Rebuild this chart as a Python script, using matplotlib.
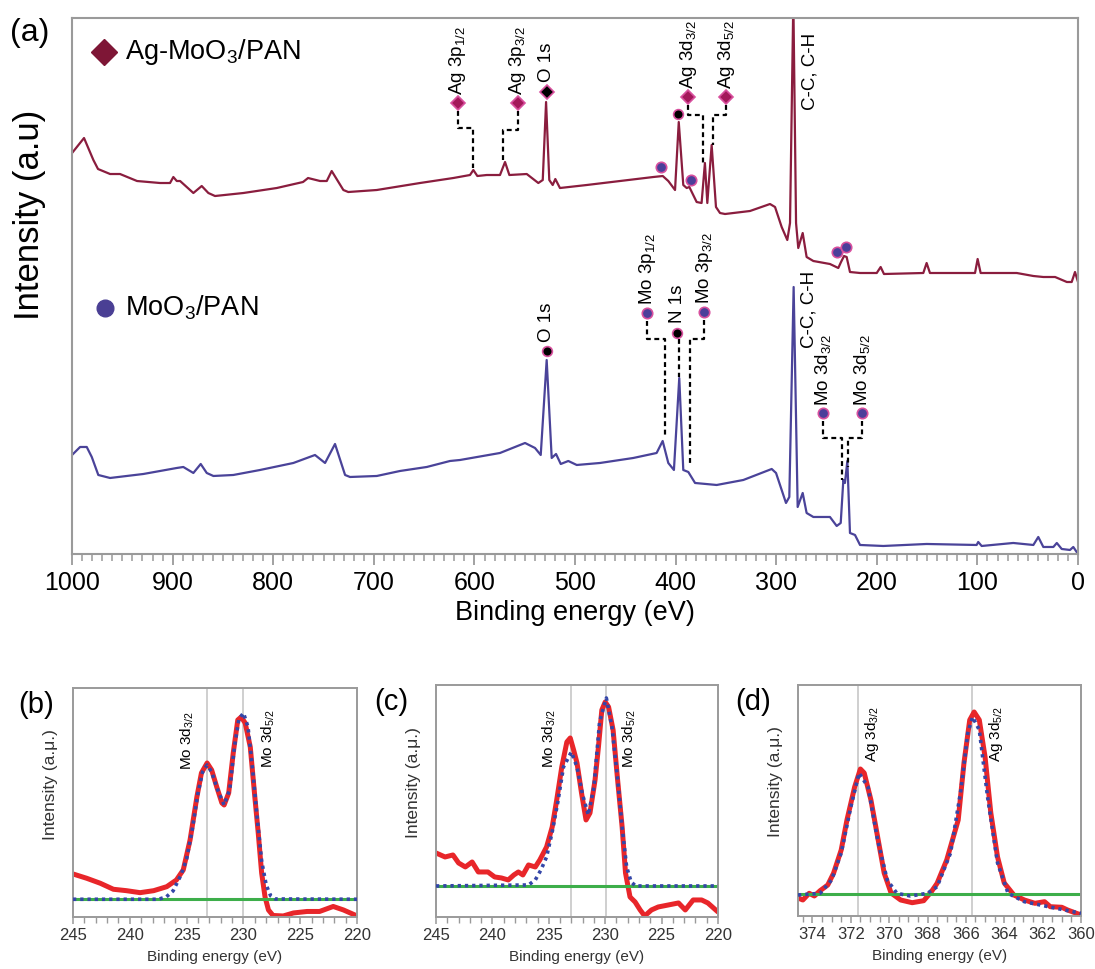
import numpy as np
import matplotlib.pyplot as plt
from matplotlib.ticker import MultipleLocator

plt.rcParams['font.family'] = ['Liberation Sans', 'DejaVu Sans']
plt.rcParams['mathtext.default'] = 'regular'

# ---- survey spectra (binding energy in eV, intensity in a.u.) ----
ag_e = [1000, 988.1, 978.8, 974.2, 962.2, 952.3, 935.4, 912.5, 902.6, 899.3,
        895.9, 892.6, 879.4, 871.1, 864.5, 857.9, 829.7, 796.5, 770.4, 765.4,
        753.5, 746.8, 741.9, 730.3, 725.4, 697.1, 654.1, 621.0, 604.4, 601.1,
        597.1, 587.8, 574.6, 569.6, 565.3, 548.0, 536.5, 532.1, 528.8, 525.6,
        522.2, 519.6, 515.0, 488.4, 455.3, 422.2, 412.8, 407.3, 400.6, 396.9,
        392.4, 389.0, 386.4, 379.1, 374.2, 370.9, 368.5, 364.2, 359.9, 355.9,
        350.9, 326.1, 306.2, 301.2, 294.6, 289.0, 286.3, 283.0, 280.3, 278.1,
        273.7, 269.8, 263.1, 246.6, 238.3, 235.6, 232.6, 230.0, 226.7, 216.7,
        200.1, 196.2, 192.9, 153.8, 150.5, 147.2, 102.4, 99.8, 96.8, 60.9,
        44.4, 34.5, 22.8, 11.1, 6.3, 3.0, 0]
ag_i = [407, 422, 400, 391, 386, 386, 379, 377, 377, 383,
        379, 379, 367, 374, 367, 364, 367, 372, 378, 382,
        379, 379, 389, 370, 368, 370, 377, 382, 385, 390,
        384, 385, 385, 398, 385, 386, 377, 380, 458, 380,
        375, 381, 372, 375, 379, 383, 384, 379, 370, 438,
        375, 372, 373, 358, 357, 397, 357, 415, 353, 347,
        346, 349, 356, 353, 333, 320, 337, 560, 337, 312,
        327, 303, 299, 296, 292, 298, 304, 303, 288, 287,
        287, 293, 286, 287, 297, 287, 287, 301, 287, 287,
        284, 283, 283, 278, 278, 288, 278]

mo_e = [1000, 992.0, 985.4, 980.4, 973.9, 962.2, 929.1, 895.9, 889.4, 879.4,
        872.1, 866.1, 859.5, 839.7, 813.1, 780.0, 758.5, 748.5, 738.6, 728.6,
        723.7, 697.1, 674.0, 647.4, 624.3, 614.3, 574.6, 549.7, 539.8, 534.1,
        528.2, 523.2, 518.9, 514.2, 506.7, 498.3, 475.2, 442.1, 418.9, 412.9,
        407.3, 401.7, 396.4, 392.4, 387.4, 380.7, 359.2, 332.7, 304.5, 300.2,
        290.3, 287.0, 282.7, 278.7, 273.7, 269.8, 263.1, 246.6, 239.9, 235.9,
        233.3, 231.7, 229.3, 226.7, 221.7, 216.7, 193.6, 150.5, 100.8, 99.2,
        95.8, 64.4, 44.4, 39.5, 34.5, 24.5, 21.1, 16.2, 8.0, 4.7, 0.7]
mo_i = [105, 113, 113, 103, 85, 82, 86, 92, 93, 87,
        96, 87, 84, 85, 90, 97, 105, 97, 116, 85,
        83, 84, 89, 93, 99, 100, 107, 117, 112, 105,
        200, 102, 106, 96, 99, 95, 97, 102, 107, 119,
        97, 90, 182, 90, 88, 77, 75, 80, 91, 87,
        57, 63, 273, 53, 67, 47, 43, 43, 34, 37,
        80, 77, 99, 27, 25, 15, 14, 16, 15, 18,
        14, 17, 15, 23, 13, 13, 17, 11, 10, 13, 7]

# ---- high resolution Mo 3d, MoO3/PAN ----
b_e = [245, 243.8, 242.6, 241.45, 240.3, 239.1, 237.9, 236.75, 235.9, 235.3,
       234.7, 234.1, 233.7, 233.2, 232.8, 232.35, 231.9, 231.7, 231.3, 230.9,
       230.5, 230.2, 229.85, 229.4, 229.0, 228.7, 228.4, 228.1, 227.8, 227.4,
       226.5, 225.6, 224.4, 223.3, 222.1, 221.2, 220.0]
b_i = [43, 38.7, 33.7, 27.7, 26.3, 24.3, 26.3, 30.3, 37, 47,
       77, 120, 144, 154, 147, 130, 114, 112, 124, 164,
       197, 200, 194, 170, 120, 84, 44, 20, 7, 1.5,
       1, 4, 5.5, 5.5, 10.5, 7, 1]
b_fit_e = [245, 237.5, 236.8, 236.2, 235.5, 235.0, 234.5, 234.0, 233.6, 233.2,
           232.8, 232.3, 231.7, 231.2, 230.8, 230.4, 230.0, 229.6, 229.2, 228.8,
           228.4, 228.0, 227.6, 227.2, 220]
b_fit_i = [17.7, 17.7, 20, 26, 42, 58, 88, 124, 145, 152,
           145, 128, 112, 128, 170, 198, 204, 190, 148, 100,
           56, 32, 21, 18, 17.7]
b_base = 17.7

# ---- high resolution Mo 3d, Ag-MoO3/PAN ----
c_e = [245, 244.2, 243.5, 243.0, 242.4, 241.8, 241.25, 240.4, 239.8, 239.2,
       238.6, 238.1, 237.7, 237.3, 236.8, 236.2, 235.8, 235.2, 234.7, 234.3,
       233.85, 233.4, 233.1, 232.8, 232.5, 232.1, 231.7, 231.35, 230.9, 230.6,
       230.3, 230.0, 229.7, 229.3, 228.9, 228.5, 228.2, 227.8, 227.35, 226.9,
       226.5, 225.9, 225.3, 224.4, 223.5, 222.9, 222.2, 221.45, 220.9, 220]
c_i = [64, 60, 62, 54, 50, 55, 45, 45, 40, 39,
       37, 42, 45, 42, 52, 50, 57, 70, 90, 117,
       150, 175, 179, 167, 154, 124, 97, 104, 137, 170,
       207, 215, 210, 187, 137, 90, 44, 20, 15, 7,
       1, 7, 10, 12, 14, 7, 17, 17, 14, 5]
c_fit_e = [245, 236.8, 236.2, 235.7, 235.2, 234.7, 234.2, 233.7, 233.0, 232.5,
           232.0, 231.5, 231.0, 230.5, 229.9, 229.4, 228.9, 228.5, 228.1, 227.7,
           227.3, 220]
c_fit_i = [31, 32, 37, 47, 60, 85, 115, 150, 165, 150,
           122, 102, 130, 195, 219, 190, 138, 90, 50, 35,
           31, 31]
c_base = 31

# ---- high resolution Ag 3d, Ag-MoO3/PAN ----
d_e = [374.75, 374.5, 374.17, 373.9, 373.6, 373.2, 372.9, 372.5, 372.2, 371.8,
       371.5, 371.3, 370.95, 370.6, 370.26, 369.9, 369.4, 368.8, 368.2, 367.8,
       367.5, 367.0, 366.4, 366.1, 365.8, 365.57, 365.3, 365.0, 364.7, 364.35,
       364.0, 363.5, 362.95, 362.4, 361.9, 361.6, 361.0, 360.7, 360.0]
d_i = [18, 16, 22.7, 20, 25.3, 31, 42.7, 66, 96, 129,
       147, 143, 116, 79, 43, 23, 16, 13.3, 15.3, 24.3,
       32.7, 56, 96, 153, 196, 204, 196, 159, 103, 59,
       33, 21, 16, 12.7, 14.3, 9.3, 8.7, 6, 1]
d_fit_e = [374.75, 373.6, 373.0, 372.5, 372.0, 371.57, 371.1, 370.6, 370.1, 369.6,
           368.9, 368.0, 367.5, 366.8, 366.26, 365.9, 365.65, 365.3, 364.87, 364.35,
           363.8, 362.95, 361.7, 360.0]
d_fit_i = [21, 22.7, 36, 63, 109, 143, 129, 76, 36, 22.7,
           20, 22.7, 29.3, 63, 126, 183, 199, 186, 119, 53,
           22.7, 14.3, 9.3, 2.7]
d_base = 21.7

AG_LINE = '#8A1D3E'
MO_LINE = '#4A4399'
AG_MK = '#A3185A'
MO_MK = '#4B3F9A'
MK_EDGE = '#D8509E'
SPINE = '#9a9a9a'

fig = plt.figure(figsize=(10.95, 9.69), dpi=100)

# ================= (a) survey =================
ax = fig.add_axes([0.0658, 0.4283, 0.9187, 0.5531])
ax.plot(ag_e, ag_i, color=AG_LINE, lw=1.6)
ax.plot(mo_e, mo_i, color=MO_LINE, lw=1.6)
ax.set_xlim(1000, 0)
ax.set_ylim(6, 542)
ax.set_yticks([])
ax.xaxis.set_major_locator(MultipleLocator(100))
ax.xaxis.set_minor_locator(MultipleLocator(10))
ax.tick_params(axis='x', which='major', length=8, width=1.3, color=SPINE,
               labelsize=18, pad=4)
ax.tick_params(axis='x', which='minor', length=5, width=1.1, color=SPINE)
for s in ax.spines.values():
    s.set_color(SPINE)
    s.set_linewidth(1.5)
ax.set_xlabel('Binding energy (eV)', fontsize=19.5, labelpad=4)
fig.text(30 / 1095, 1 - 215 / 969, 'Intensity (a.u)', rotation=90,
         ha='center', va='center', fontsize=25)

DASH = dict(color='black', lw=1.6, ls=(0, (2.2, 1.6)), zorder=3)


def tag(e, y, kind, text=None, lead=None, dy=8):
    styles = {'ag': ('D', AG_MK, 7.5), 'mo': ('o', MO_MK, 7.5),
              'kd': ('D', 'black', 7), 'ko': ('o', 'black', 7)}
    m, fc, ms = styles[kind]
    ax.plot(e, y, m, ms=ms, mfc=fc, mec=MK_EDGE, mew=1.2, zorder=4)
    if text:
        ax.text(e, y + dy, text, rotation=90, ha='center', va='bottom', fontsize=13.5)
    if lead:
        e_pk, y_elbow, y_pk = lead
        ax.plot([e, e, e_pk, e_pk], [y - 8, y_elbow, y_elbow, y_pk], **DASH)


# Ag-MoO3/PAN
tag(616.5, 457, 'ag', r'Ag 3p$_{1/2}$', (601.1, 432, 392))
tag(557.0, 457, 'ag', r'Ag 3p$_{3/2}$', (571.3, 430, 400))
tag(528.2, 467.7, 'kd', 'O 1s', dy=10)
tag(397.3, 445.7, 'ko')
tag(414.2, 393.3, 'mo')
tag(385.0, 380, 'mo')
tag(387.7, 463.5, 'ag', r'Ag 3d$_{3/2}$', (372.5, 445, 397))
tag(349.9, 463.3, 'ag', r'Ag 3d$_{5/2}$', (362.6, 445, 415))
tag(239.3, 307.7, 'mo')
tag(230.6, 312.7, 'mo')
ax.text(266.4, 450, 'C-C, C-H', rotation=90, ha='center', va='bottom', fontsize=13.5)

# MoO3/PAN
tag(528.2, 209.3, 'ko', 'O 1s', dy=9)
tag(428.1, 247.3, 'mo', r'Mo 3p$_{1/2}$', (410.6, 220.7, 121.7))
tag(398.3, 227.3, 'ko', 'N 1s', dy=10)
ax.plot([397.0, 397.0], [221, 183], **DASH)
tag(371.5, 247.7, 'mo', r'Mo 3p$_{3/2}$', (385.7, 220.7, 96.7))
ax.text(267.4, 211.7, 'C-C, C-H', rotation=90, ha='center', va='bottom', fontsize=13.5)
tag(253.2, 146.7, 'mo', r'Mo 3d$_{3/2}$', (235.0, 121.7, 80), dy=7)
tag(215.0, 146.7, 'mo', r'Mo 3d$_{5/2}$', (228.4, 121.7, 93.3), dy=7)

# sample key
ax.plot(0.0318, 0.9366, 'D', ms=13, color='#7E1636', transform=ax.transAxes)
ax.text(0.0527, 0.9366, r'Ag-MoO$_3$/PAN', transform=ax.transAxes,
        va='center', ha='left', fontsize=19.5)
ax.plot(0.0328, 0.459, 'o', ms=12, color='#4A3F94', transform=ax.transAxes)
ax.text(0.0527, 0.459, r'MoO$_3$/PAN', transform=ax.transAxes,
        va='center', ha='left', fontsize=19.5)

fig.text(30 / 1095, 1 - 33 / 969, '(a)', ha='center', va='center', fontsize=23)


# ================= (b)-(d) high resolution =================
def hr_panel(rect, e, i, fe, fi, base, xlim, major, minor, lines, labels, ylim):
    a = fig.add_axes(rect)
    a.plot(e, i, color='#E8262A', lw=3.6, solid_capstyle='round', zorder=1)
    a.axhline(base, color='#3DAE4A', lw=2.2, zorder=2)
    a.plot(fe, fi, color='#3446A8', lw=2.6, ls=(0, (0.9, 1.1)), zorder=3)
    for x in lines:
        a.axvline(x, color='#cfcfcf', lw=1.4, zorder=0)
    for x, y, t in labels:
        a.text(x, y, t, rotation=90, ha='center', va='bottom', fontsize=11)
    a.set_xlim(*xlim)
    a.set_ylim(*ylim)
    a.set_yticks([])
    a.xaxis.set_major_locator(MultipleLocator(major))
    a.xaxis.set_minor_locator(MultipleLocator(minor))
    a.tick_params(axis='x', which='major', length=5, width=1.1, color=SPINE,
                  labelsize=12, pad=3, labelcolor='#333333')
    a.tick_params(axis='x', which='minor', length=4, width=1.0, color=SPINE)
    for s in a.spines.values():
        s.set_color(SPINE)
        s.set_linewidth(1.4)
    a.set_xlabel('Binding energy (eV)', fontsize=11, labelpad=5, color='#333333')
    a.set_ylabel('Intensity (a.\u03bc.)', fontsize=12.5, color='#333333')
    a.yaxis.set_label_coords(-0.052, 0.58)
    return a


hr_panel([0.0667, 0.0537, 0.2594, 0.2363], b_e, b_i, b_fit_e, b_fit_i, b_base,
         (245, 220), 5, 1, [233.2, 230.0],
         [(234.9, 147, r'Mo 3d$_{3/2}$'), (227.8, 149, r'Mo 3d$_{5/2}$')], (0, 229))
hr_panel([0.3982, 0.0537, 0.2575, 0.2394], c_e, c_i, c_fit_e, c_fit_i, c_base,
         (245, 220), 5, 1, [233.0, 229.9],
         [(235.0, 149, r'Mo 3d$_{3/2}$'), (227.9, 149, r'Mo 3d$_{5/2}$')], (0, 232))
hr_panel([0.7288, 0.0547, 0.2584, 0.2384], d_e, d_i, d_fit_e, d_fit_i, d_base,
         (374.75, 360), 2, 0.5, [371.6, 365.7],
         [(370.87, 154, r'Ag 3d$_{3/2}$'), (364.45, 154, r'Ag 3d$_{5/2}$')], (0, 231))

fig.text(36 / 1095, 1 - 705 / 969, '(b)', ha='center', va='center', fontsize=21)
fig.text(391 / 1095, 1 - 702 / 969, '(c)', ha='center', va='center', fontsize=21)
fig.text(753 / 1095, 1 - 702 / 969, '(d)', ha='center', va='center', fontsize=21)

fig.savefig('out.png', dpi=100)
